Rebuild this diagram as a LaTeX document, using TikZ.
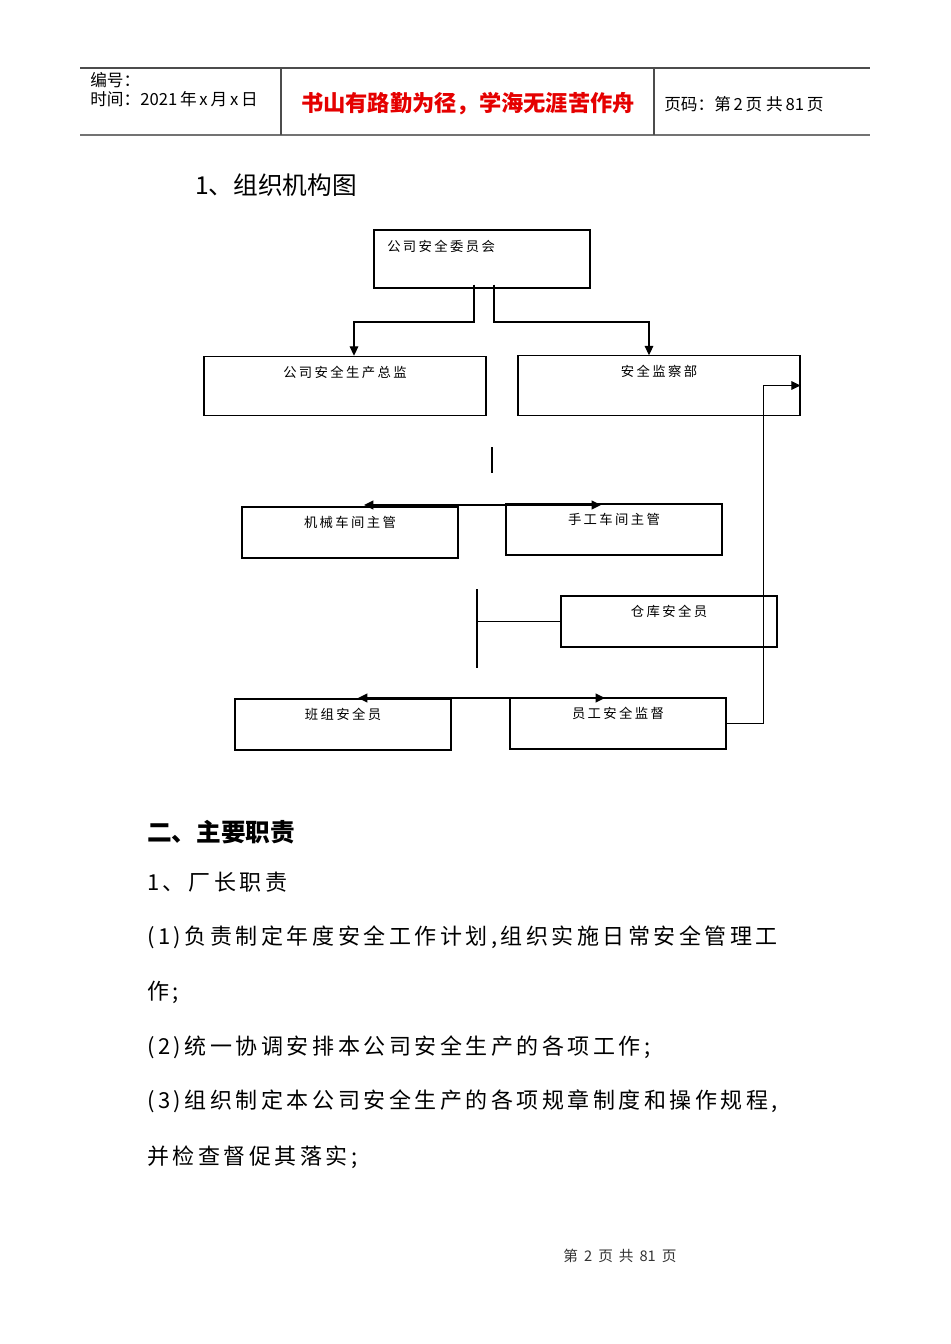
\documentclass[tikz,border=0pt]{standalone}
\usepackage{fontspec}
\setmainfont{Noto Sans CJK SC}
\newfontfamily\bodyls[LetterSpace=16]{Noto Sans CJK SC}
\newfontfamily\boxls[LetterSpace=18]{Noto Sans CJK SC}
\usetikzlibrary{arrows.meta,calc}
\tikzset{
  orgbox/.style={draw=black, line width=0.9pt, minimum width=162pt, minimum height=38.25pt, inner sep=0pt},
  widebox/.style={orgbox, minimum width=211.5pt, minimum height=44.5pt},
  boxlabel/.style={font=\boxls\fontsize{10}{12}\selectfont, inner sep=0pt},
  conn/.style={line width=0.8pt, black},
  arr/.style={conn, -{Triangle[length=7pt,width=6.5pt]}},
  dblarr/.style={line width=1.4pt, black, {Triangle[length=7pt,width=6.5pt]}-{Triangle[length=7pt,width=6.5pt]}},
  body/.style={anchor=west, inner sep=0pt, font=\bodyls\fontsize{16.5}{20}\selectfont},
  hdr/.style={anchor=west, inner sep=0pt, font=\fontsize{12.5}{14}\selectfont},
  rule/.style={draw=black!70, line width=1pt}
}
\begin{document}
\begin{tikzpicture}[x=0.75pt, y=-0.75pt]
\useasboundingbox (0,0) rectangle (950,1344);
\fill[white] (0,0) rectangle (950,1344);

% ---- header ----
\draw[rule] (80,68) -- (870,68);
\draw[draw=black!55, line width=2pt] (80,135) -- (870,135);
\draw[rule, line width=0.8pt] (281,68) -- (281,135);
\draw[rule, line width=0.8pt] (654,68) -- (654,135);
\node[hdr] (h1) at (90,80) {编号：};
\node[hdr] (h2) at (90,99) {时间：2021\,年\,x\,月\,x\,日};
\node[anchor=center, inner sep=0pt, text=red!90!black, font=\bfseries\fontsize{16.7}{20}\selectfont] (h3) at (468,104) {书山有路勤为径，学海无涯苦作舟};
\node[hdr] (h4) at (664,104) {页码：第\,2\,页 共\,81\,页};

% ---- title ----
\node[anchor=west, inner sep=0pt, font=\fontsize{18.5}{22}\selectfont] (title) at (195,185) {1、组织机构图};

% ---- org chart boxes ----
\node[orgbox, minimum height=43.5pt] (A) at (482,259) {};
\node[boxlabel, anchor=west] (At) at (387,246) {公司安全委员会};
\node[widebox] (B) at (345,386) {};
\node[boxlabel] (Bt) at ($(B.north)+(0,17)$) {公司安全生产总监};
\node[widebox] (C) at (659,385.5) {};
\node[boxlabel] (Ct) at ($(C.north)+(0,16)$) {安全监察部};
\node[orgbox] (D) at (350,532.5) {};
\node[boxlabel] (Dt) at ($(D.north)+(0,16)$) {机械车间主管};
\node[orgbox] (E) at (614,529.5) {};
\node[boxlabel] (Et) at ($(E.north)+(0,16)$) {手工车间主管};
\node[orgbox] (F) at (669,621.5) {};
\node[boxlabel] (Ft) at ($(F.north)+(0,16)$) {仓库安全员};
\node[orgbox] (G) at (343,724.5) {};
\node[boxlabel] (Gt) at ($(G.north)+(0,16)$) {班组安全员};
\node[orgbox] (H) at (618,723.5) {};
\node[boxlabel] (Ht) at ($(H.north)+(0,16)$) {员工安全监督};

% ---- connectors ----
\coordinate (a1) at ($(A.south)+(-8,-4)$);
\coordinate (a2) at ($(A.south)+(12,-4)$);
\draw[arr] (a1) -- (a1 |- 0,322) -| ($(B.north)+(9,0)$);
\draw[arr] (a2) -- (a2 |- 0,322) -| ($(C.north)+(-10,0)$);

\coordinate (v1) at (492,447);
\coordinate (v2) at (492,473);
\draw[conn] (v1) -- (v2);

\coordinate (d1) at (364,505);
\coordinate (d2) at (601,505);
\draw[dblarr] (d1) -- (d2);

\coordinate (f1) at (477,589);
\coordinate (f2) at (477,668);
\draw[conn] (f1) -- (f2);
\draw[conn] (f1 |- F.west) -- (F.west);

\coordinate (g1) at (358,698);
\coordinate (g2) at (605,698);
\draw[dblarr] (g1) -- (g2);

\draw[arr] (H.east) -- ++(37,0) |- (C.east);

% ---- body text ----
\node[anchor=west, inner sep=0pt, font=\bfseries\fontsize{18.5}{22}\selectfont] (s2) at (147,832) {二、主要职责};
\node[body] (p0) at (147,882) {1、厂长职责};
\node[body] (p1) at (147,937) {(1)负责制定年度安全工作计划,组织实施日常安全管理工};
\node[body] (p1b) at (147,992) {作;};
\node[body] (p2) at (147,1047) {(2)统一协调安排本公司安全生产的各项工作;};
\node[body] (p3) at (147,1101) {(3)组织制定本公司安全生产的各项规章制度和操作规程,};
\node[body] (p3b) at (147,1157) {并检查督促其落实;};

% ---- footer ----
\node[inner sep=0pt, font=\fontsize{11}{13}\selectfont, text=black!80] (foot) at (620,1256) {第\hspace{4.5pt}2\hspace{4.5pt}页\hspace{4.5pt}共\hspace{4.5pt}81\hspace{4.5pt}页};
\end{tikzpicture}
\end{document}
